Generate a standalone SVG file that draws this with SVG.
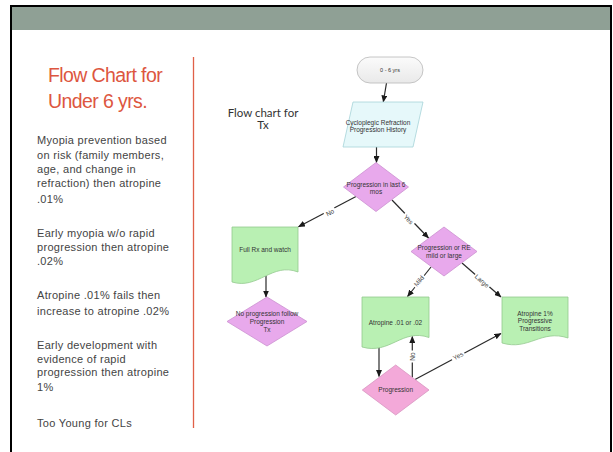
<svg xmlns="http://www.w3.org/2000/svg" width="613" height="452" viewBox="0 0 613 452">
  <style>
    .title { font-family: "Liberation Sans", Arial, sans-serif; font-size: 19.5px; fill: #dd5640; letter-spacing: -0.6px; }
    .body { font-family: "Liberation Sans", Arial, sans-serif; font-size: 11px; fill: #444; letter-spacing: 0.3px; }
    .sub { font-family: Lato, "Open Sans", sans-serif; font-size: 11.5px; fill: #333; text-anchor: middle; }
    .lbl { font-family: "Liberation Sans", Arial, sans-serif; font-size: 6.5px; fill: #333; text-anchor: middle; }
    .edge { font-family: "Liberation Sans", Arial, sans-serif; font-size: 6.5px; fill: #444; text-anchor: middle; }
    .doc { fill: #b9f0b3; stroke: #93c98e; stroke-width: 0.8; }
    .dia { fill: #e8a9ec; stroke: #cc90d0; stroke-width: 0.8; }
    .dia2 { fill: #f3a9d9; stroke: #d894c0; stroke-width: 0.8; }
    .conn line { stroke: #2a2a2a; stroke-width: 1.2; marker-end: url(#arr); }
    .conn .plain { marker-end: none; }
  </style>
  <defs>
    <marker id="arr" markerUnits="userSpaceOnUse" markerWidth="7" markerHeight="6" refX="6.5" refY="3" orient="auto">
      <path d="M0,0 L7,3 L0,6 Z" fill="#1a1a1a"/>
    </marker>
    <linearGradient id="term" x1="0" y1="0" x2="0" y2="1">
      <stop offset="0" stop-color="#fbfbfb"/>
      <stop offset="1" stop-color="#e9e9e9"/>
    </linearGradient>
  </defs>

  <!-- slide background and frame -->
  <rect x="0" y="0" width="613" height="452" fill="#ffffff"/>
  <rect x="12" y="7" width="598" height="23" fill="#8fa095"/>
  <path d="M11,452 V6 H611 V452" fill="none" stroke="#000" stroke-width="2"/>

  <!-- left text column -->
  <g id="sidebar">
    <text class="title" x="48" y="82">Flow Chart for</text>
    <text class="title" x="48" y="108">Under 6 yrs.</text>
    <line x1="193.5" y1="57" x2="193.5" y2="428" stroke="#e06048" stroke-width="1.3"/>
    <text class="body" x="37">
      <tspan x="37" y="144">Myopia prevention based</tspan>
      <tspan x="37" y="158.5">on risk (family members,</tspan>
      <tspan x="37" y="172.5">age, and change in</tspan>
      <tspan x="37" y="186.5">refraction) then atropine</tspan>
      <tspan x="37" y="202.5">.01%</tspan>
    </text>
    <text class="body" x="37">
      <tspan x="37" y="237">Early myopia w/o rapid</tspan>
      <tspan x="37" y="251">progression then atropine</tspan>
      <tspan x="37" y="265">.02%</tspan>
    </text>
    <text class="body" x="37">
      <tspan x="37" y="299">Atropine .01% fails then</tspan>
      <tspan x="37" y="314.5">increase to atropine .02%</tspan>
    </text>
    <text class="body" x="37">
      <tspan x="37" y="349">Early development with</tspan>
      <tspan x="37" y="362.5">evidence of rapid</tspan>
      <tspan x="37" y="376">progression then atropine</tspan>
      <tspan x="37" y="391">1%</tspan>
    </text>
    <text class="body" x="37" y="426.5">Too Young for CLs</text>
  </g>

  <g id="chart-title">
    <text class="sub" x="263" y="116.5">Flow chart for</text>
    <text class="sub" x="263" y="129">Tx</text>
  </g>

  <!-- connectors -->
  <g id="connectors" class="conn">
    <line x1="386.5" y1="83" x2="383.3" y2="102"/>
    <line x1="376.5" y1="147" x2="376.5" y2="162.5"/>
    <line x1="356" y1="196.5" x2="298.5" y2="226.8"/>
    <line x1="392" y1="200" x2="428.5" y2="238"/>
    <line x1="266" y1="276" x2="266" y2="297"/>
    <line x1="431" y1="267" x2="407.5" y2="296.5"/>
    <line x1="462" y1="263" x2="501" y2="297"/>
    <line x1="379" y1="346" x2="379" y2="376.5"/>
    <line x1="412.3" y1="377.5" x2="412.3" y2="336.5"/>
    <line x1="415" y1="379.5" x2="501" y2="333.5"/>

    <g transform="translate(330,212.5) rotate(-27.8)">
      <rect x="-6" y="-4" width="12" height="8" fill="#fff"/>
      <text class="edge" y="2.3">No</text>
    </g>
    <g transform="translate(408.5,219.5) rotate(46)">
      <rect x="-7" y="-4" width="14" height="8" fill="#fff"/>
      <text class="edge" y="2.3">Yes</text>
    </g>
    <g transform="translate(419,281) rotate(-51)">
      <rect x="-7.5" y="-4" width="15" height="8" fill="#fff"/>
      <text class="edge" y="2.3">Mild</text>
    </g>
    <g transform="translate(482,281) rotate(41)">
      <rect x="-9.5" y="-4" width="19" height="8" fill="#fff"/>
      <text class="edge" y="2.3">Large</text>
    </g>
    <g transform="translate(412.3,356.5) rotate(-90)">
      <rect x="-6" y="-4" width="12" height="8" fill="#fff"/>
      <text class="edge" y="2.3">No</text>
    </g>
    <g transform="translate(458,356) rotate(-28.2)">
      <rect x="-7" y="-4" width="14" height="8" fill="#fff"/>
      <text class="edge" y="2.3">Yes</text>
    </g>
  </g>

  <!-- nodes -->
  <g id="start">
    <rect x="357" y="57" width="66" height="26" rx="13" fill="url(#term)" stroke="#b8b8b8" stroke-width="0.8"/>
    <text class="lbl" x="390" y="72" style="font-size:5.5px">0 - 6 yrs</text>
  </g>

  <g id="history">
    <polygon points="353,102 423,102 413,147 343,147" fill="#e6f8fa" stroke="#a6d3d8" stroke-width="0.8"/>
    <text class="lbl" x="378" y="124.5">Cycloplegic Refraction</text>
    <text class="lbl" x="378" y="132">Progression History</text>
  </g>

  <g id="q-progression">
    <polygon class="dia" points="376,162.5 408.5,187 376,211.5 343.5,187"/>
    <text class="lbl" x="376" y="186.5">Progression in last 6</text>
    <text class="lbl" x="376" y="194">mos</text>
  </g>

  <g id="full-rx">
    <path class="doc" d="M232,227 H298 V272 C272,262 258,290 232,282 Z"/>
    <text class="lbl" x="265" y="252">Full Rx and watch</text>
  </g>

  <g id="no-progression">
    <polygon class="dia" points="267,297 307,321.5 267,346 227,321.5"/>
    <text class="lbl" x="267" y="315.5">No progression follow</text>
    <text class="lbl" x="267" y="323.8">Progression</text>
    <text class="lbl" x="267" y="331.5">Tx</text>
  </g>

  <g id="q-severity">
    <polygon class="dia" points="444,227 477,251.5 444,276 411,251.5"/>
    <text class="lbl" x="444" y="250.3">Progression or RE</text>
    <text class="lbl" x="444" y="258">mild or large</text>
  </g>

  <g id="low-dose">
    <path class="doc" d="M362,297 H429 V337.5 C402,328 390,355 362,347 Z"/>
    <text class="lbl" x="395.5" y="324.5">Atropine .01 or .02</text>
  </g>

  <g id="high-dose">
    <path class="doc" d="M502,297 H568 V338 C541,329 529,351 502,343 Z"/>
    <text class="lbl" x="535" y="315.5">Atropine 1%</text>
    <text class="lbl" x="535" y="323">Progressive</text>
    <text class="lbl" x="535" y="330.5">Transitions</text>
  </g>

  <g id="q-recheck">
    <polygon class="dia2" points="395.7,365 429,390 395.7,415 362.3,390"/>
    <text class="lbl" x="395.7" y="392.3">Progression</text>
  </g>
</svg>
